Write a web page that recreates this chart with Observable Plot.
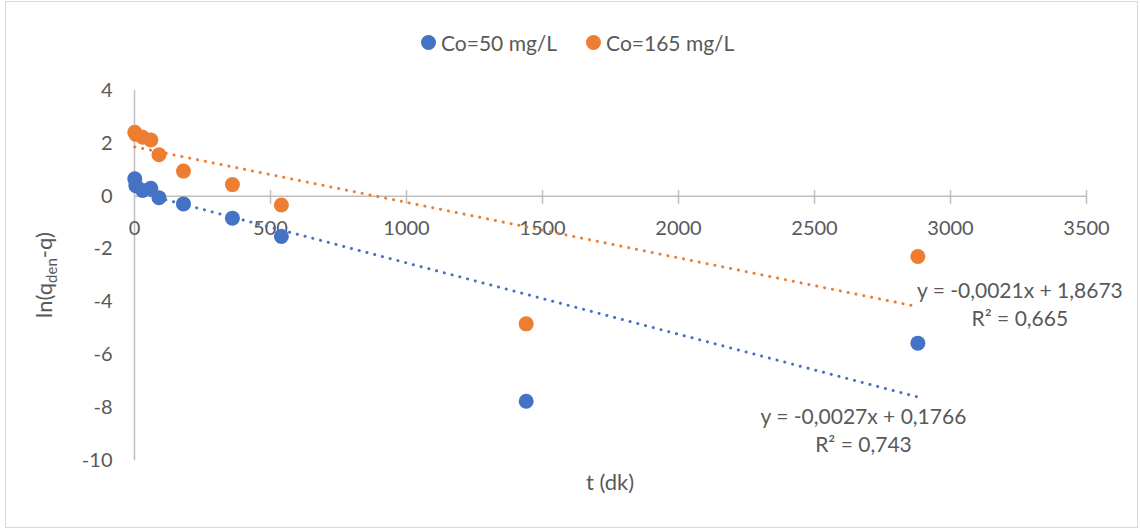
<!DOCTYPE html>
<html>
<head>
<meta charset="utf-8">
<script src="https://cdn.jsdelivr.net/npm/d3@7"></script>
<script src="https://cdn.jsdelivr.net/npm/@observablehq/plot@0.6"></script>
<style>
  html, body { margin: 0; padding: 0; background: #fff; }
  #wrap { position: relative; width: 1140px; height: 530px; font-family: Lato, "Open Sans", sans-serif; color: #595959; }
  #frame { position: absolute; left: 5px; top: 1px; width: 1131px; height: 525px; border: 1.5px solid #d9d9d9; pointer-events: none; }
  #legend { position: absolute; left: 421px; top: 28px; height: 28px; display: flex; align-items: center; font-size: 21px; }
  #legend .item { display: flex; align-items: center; margin-right: 29px; }
  #legend .sw { width: 15px; height: 15px; border-radius: 50%; margin-right: 5px; }
  #chart { position: absolute; left: 0; top: 70px; }
</style>
</head>
<body>
<div id="wrap">
  <div id="legend"></div>
  <div id="chart"></div>
  <div id="frame"></div>
</div>
<script>
// Pseudo-first-order kinetics: ln(q_e - q) versus contact time
const seriesNames = ["Co=50 mg/L", "Co=165 mg/L"];
const seriesColors = ["#4472C4", "#ED7D31"];
const times = [1, 5, 30, 60, 90, 180, 360, 540, 1440, 2880];
const lnBlue = [0.66, 0.40, 0.22, 0.30, -0.06, -0.29, -0.83, -1.52, -7.76, -5.56];
const lnOrange = [2.42, 2.34, 2.23, 2.13, 1.57, 0.95, 0.44, -0.33, -4.83, -2.28];

// Linear trendlines fitted per series
const trendSlope = [-0.0027, -0.0021];
const trendIntercept = [0.1766, 1.8673];
const trendR2 = [0.743, 0.665];

const xTicks = [0, 500, 1000, 1500, 2000, 2500, 3000, 3500];
const yTicks = [4, 2, 0, -2, -4, -6, -8, -10];

const ink = "#595959";
const axisGray = "#bfbfbf";

const seriesValues = [lnBlue, lnOrange];
const points = seriesValues.flatMap((vals, s) =>
  vals.map((v, i) => ({ t: times[i], v, s })));

const [tMin, tMax] = d3.extent(times);
const trends = trendSlope.flatMap((m, s) =>
  [tMin, tMax].map(t => ({ t, v: m * t + trendIntercept[s], s })));

const comma = v => String(v).replace(".", ",");
const eqText = s => {
  const m = trendSlope[s], b = trendIntercept[s];
  return `y = ${comma(m)}x ${b < 0 ? "-" : "+"} ${comma(Math.abs(b))}`;
};
const labels = [
  { s: 0, t: 2680, v: -8.82 },
  { s: 1, t: 3255, v: -4.04 }
].map(d => ({ ...d, text: `${eqText(d.s)}\nR² = ${comma(trendR2[d.s])}` }));

// Legend
const legend = d3.select("#legend");
seriesNames.forEach((name, i) => {
  const item = legend.append("div").attr("class", "item");
  item.append("div").attr("class", "sw").style("background", seriesColors[i]);
  item.append("span").text(name);
});

const plot = Plot.plot({
  width: 1140,
  height: 460,
  marginTop: 20,
  marginBottom: 70,
  marginLeft: 134,
  marginRight: 54,
  style: { fontFamily: "Lato, 'Open Sans', sans-serif", color: ink, background: "transparent" },
  x: { domain: [0, 3500], axis: null },
  y: { domain: [-10, 4] },
  color: { domain: [0, 1], range: seriesColors },
  marks: [
    // axis lines: vertical at t = 0, horizontal at y = 0
    Plot.ruleX([0], { y1: -10, y2: 4, stroke: axisGray, strokeWidth: 1.5 }),
    Plot.ruleY([0], { x1: 0, x2: 3500, stroke: axisGray, strokeWidth: 1.5 }),
    Plot.ruleX(xTicks.slice(1), { y1: -0.31, y2: 0.22, stroke: axisGray, strokeWidth: 1.5 }),
    Plot.text(xTicks, { x: d => d, y: 0, dy: 32, text: d => String(d), fontSize: 20, fill: ink }),
    Plot.axisY(yTicks, {
      tickSize: 0, tickPadding: 22, fontSize: 20, label: null, color: ink,
      tickFormat: d => String(d)
    }),
    // trendlines
    Plot.line(trends, {
      x: "t", y: "v", z: "s", stroke: "s",
      strokeWidth: 3, strokeDasharray: "0.1 7.9", strokeLinecap: "round"
    }),
    // observations
    Plot.dot(points, { x: "t", y: "v", fill: "s", r: 7.5 }),
    // equation labels
    Plot.text(labels, {
      x: "t", y: "v", text: "text", fontSize: 21, fill: ink,
      lineHeight: 1.33, textAnchor: "middle"
    })
  ]
});

const svg = d3.select(plot);
// x-axis title
svg.append("text")
  .attr("x", 610).attr("y", 420)
  .attr("text-anchor", "middle")
  .attr("font-size", 22).attr("fill", ink)
  .text("t (dk)");
// y-axis title with subscript
const yl = svg.append("text")
  .attr("transform", "translate(52,205) rotate(-90)")
  .attr("text-anchor", "middle")
  .attr("font-size", 22).attr("fill", ink);
yl.append("tspan").text("ln(q");
yl.append("tspan").attr("font-size", 15).attr("dy", 5).text("den");
yl.append("tspan").attr("dy", -5).text("-q)");

document.getElementById("chart").appendChild(plot);
</script>
</body>
</html>
